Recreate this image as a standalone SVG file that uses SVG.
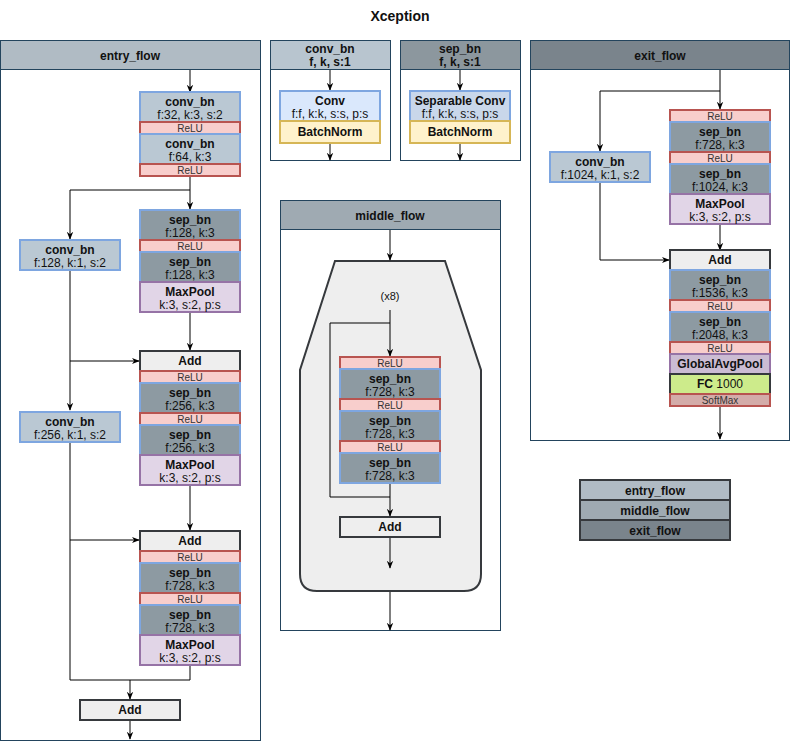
<svg xmlns="http://www.w3.org/2000/svg" width="791" height="749" viewBox="0 0 791 749">
<defs>
<marker id="ah" viewBox="0 0 10 10" refX="9" refY="5" markerWidth="8" markerHeight="8" markerUnits="userSpaceOnUse" orient="auto">
<path d="M0,1 L10,5 L0,9 L3,5 Z" fill="#000"/>
</marker>
<style>
text{font-family:"Liberation Sans",Arial,sans-serif;fill:#111;text-anchor:middle}
.b{font-weight:bold;font-size:12px}
.r{font-size:12px}
.s{font-size:10px;fill:#333}
.cont{fill:#fff;stroke:#23445d;stroke-width:1}
.hdr{stroke:#23445d;stroke-width:1}
.conv{fill:#bac8d3;stroke:#7ea6e0;stroke-width:2}
.sep{fill:#8d9aa2;stroke:#7ea6e0;stroke-width:2}
.relu{fill:#f8cecc;stroke:#b85450;stroke-width:2}
.pool{fill:#e1d5e7;stroke:#9673a6;stroke-width:2}
.gap{fill:#cbbcd3;stroke:#9673a6;stroke-width:2}
.add{fill:#eeeeee;stroke:#36393d;stroke-width:2}
.fc{fill:#cdeb8b;stroke:#36393d;stroke-width:2}
.soft{fill:#d3aca9;stroke:#b85450;stroke-width:2}
.cv{fill:#dae8fc;stroke:#7ea6e0;stroke-width:2}
.scv{fill:#c9d7ea;stroke:#7ea6e0;stroke-width:2}
.bnm{fill:#fff2cc;stroke:#d6b656;stroke-width:2}
.ln{fill:none;stroke:#000;stroke-width:1}
.la{fill:none;stroke:#000;stroke-width:1;marker-end:url(#ah)}
</style>
</defs>
<rect width="791" height="749" fill="#fff"/>
<text x="400" y="21" style="font-weight:bold;font-size:14px">Xception</text>

<!-- containers -->
<g id="entry_flow">
<rect class="cont" x="0.5" y="40.5" width="260" height="700"/>
<rect class="hdr" x="0.5" y="40.5" width="260" height="29" fill="#b0bbc4"/>
<text class="b" x="130" y="60">entry_flow</text>
</g>
<g id="conv_bn_def">
<rect class="cont" x="270.5" y="40.5" width="120" height="120"/>
<rect class="hdr" x="270.5" y="40.5" width="120" height="29" fill="#b8c5cf"/>
<text class="b" x="330" y="53">conv_bn</text>
<text class="b" x="330" y="66">f, k, s:1</text>
</g>
<g id="sep_bn_def">
<rect class="cont" x="400.5" y="40.5" width="120" height="120"/>
<rect class="hdr" x="400.5" y="40.5" width="120" height="29" fill="#8c979e"/>
<text class="b" x="460" y="53">sep_bn</text>
<text class="b" x="460" y="66">f, k, s:1</text>
</g>
<g id="middle_flow">
<rect class="cont" x="280.5" y="200.5" width="220" height="430"/>
<rect class="hdr" x="280.5" y="200.5" width="220" height="29" fill="#9faab2"/>
<text class="b" x="390" y="220">middle_flow</text>
<path d="M335,261 L445,261 L481,370 L481,574 Q481,591 464,591 L317,591 Q300,591 300,574 L300,370 Z" fill="#eeeeee" stroke="#36393d" stroke-width="2"/>
<text x="390" y="300" style="font-size:11px">(x8)</text>
</g>
<g id="exit_flow">
<rect class="cont" x="530.5" y="40.5" width="259" height="400"/>
<rect class="hdr" x="530.5" y="40.5" width="259" height="29" fill="#7a848c"/>
<text class="b" x="660" y="60">exit_flow</text>
</g>

<!-- connectors -->
<g id="connectors">
<line class="la" x1="190" y1="70" x2="190" y2="92"/>
<line class="la" x1="190" y1="177" x2="190" y2="209"/>
<polyline class="la" points="190,190 70,190 70,239"/>
<line class="la" x1="190" y1="313" x2="190" y2="350"/>
<line class="la" x1="70" y1="271" x2="70" y2="410"/>
<polyline class="la" points="70,361 139,361"/>
<line class="la" x1="190" y1="485" x2="190" y2="530"/>
<polyline class="ln" points="70,442 70,680 190,680 190,665"/>
<polyline class="la" points="70,540 139,540"/>
<line class="la" x1="130" y1="680" x2="130" y2="699"/>
<line class="la" x1="130" y1="721" x2="130" y2="739"/>

<line class="la" x1="330" y1="70" x2="330" y2="90"/>
<line class="la" x1="330" y1="144" x2="330" y2="160"/>
<line class="la" x1="460" y1="70" x2="460" y2="90"/>
<line class="la" x1="460" y1="144" x2="460" y2="160"/>

<line class="la" x1="390" y1="230" x2="390" y2="260"/>
<line class="la" x1="390" y1="310" x2="390" y2="356"/>
<polyline class="ln" points="390,323 330,323 330,497 390,497"/>
<line class="la" x1="390" y1="484" x2="390" y2="516"/>
<line class="la" x1="390" y1="538" x2="390" y2="568"/>
<line class="la" x1="390" y1="592" x2="390" y2="630"/>

<line class="la" x1="720" y1="70" x2="720" y2="109"/>
<polyline class="la" points="720,91 600,91 600,151"/>
<polyline class="la" points="600,183 600,260 669,260"/>
<line class="la" x1="720" y1="225" x2="720" y2="250"/>
<line class="la" x1="720" y1="407" x2="720" y2="439"/>
</g>

<!-- entry nodes -->
<g id="e_conv1"><rect class="conv" x="140" y="92" width="100" height="30"/><text class="b" x="190" y="105.5">conv_bn</text><text class="r" x="190" y="119">f:32, k:3, s:2</text></g>
<g id="e_relu1"><rect class="relu" x="140" y="122" width="100" height="12"/><text class="s" x="190" y="131.5">ReLU</text></g>
<g id="e_conv2"><rect class="conv" x="140" y="134" width="100" height="30"/><text class="b" x="190" y="147.5">conv_bn</text><text class="r" x="190" y="161">f:64, k:3</text></g>
<g id="e_relu2"><rect class="relu" x="140" y="164" width="100" height="12"/><text class="s" x="190" y="173.5">ReLU</text></g>

<g id="e_sep1"><rect class="sep" x="140" y="210" width="100" height="30"/><text class="b" x="190" y="223.5">sep_bn</text><text class="r" x="190" y="237">f:128, k:3</text></g>
<g id="e_relu3"><rect class="relu" x="140" y="240" width="100" height="12"/><text class="s" x="190" y="249.5">ReLU</text></g>
<g id="e_sep2"><rect class="sep" x="140" y="252" width="100" height="30"/><text class="b" x="190" y="265.5">sep_bn</text><text class="r" x="190" y="279">f:128, k:3</text></g>
<g id="e_pool1"><rect class="pool" x="140" y="282" width="100" height="30"/><text class="b" x="190" y="295.5">MaxPool</text><text class="r" x="190" y="309">k:3, s:2, p:s</text></g>
<g id="e_skip1"><rect class="conv" x="20" y="240" width="100" height="30"/><text class="b" x="70" y="253.5">conv_bn</text><text class="r" x="70" y="267">f:128, k:1, s:2</text></g>

<g id="e_add1"><rect class="add" x="140" y="351" width="100" height="20"/><text class="b" x="190" y="365">Add</text></g>
<g id="e_relu4"><rect class="relu" x="140" y="371" width="100" height="12"/><text class="s" x="190" y="380.5">ReLU</text></g>
<g id="e_sep3"><rect class="sep" x="140" y="383" width="100" height="30"/><text class="b" x="190" y="396.5">sep_bn</text><text class="r" x="190" y="410">f:256, k:3</text></g>
<g id="e_relu5"><rect class="relu" x="140" y="413" width="100" height="12"/><text class="s" x="190" y="422.5">ReLU</text></g>
<g id="e_sep4"><rect class="sep" x="140" y="425" width="100" height="30"/><text class="b" x="190" y="438.5">sep_bn</text><text class="r" x="190" y="452">f:256, k:3</text></g>
<g id="e_pool2"><rect class="pool" x="140" y="455" width="100" height="30"/><text class="b" x="190" y="468.5">MaxPool</text><text class="r" x="190" y="482">k:3, s:2, p:s</text></g>
<g id="e_skip2"><rect class="conv" x="20" y="412" width="100" height="30"/><text class="b" x="70" y="425.5">conv_bn</text><text class="r" x="70" y="439">f:256, k:1, s:2</text></g>

<g id="e_add2"><rect class="add" x="140" y="531" width="100" height="20"/><text class="b" x="190" y="545">Add</text></g>
<g id="e_relu6"><rect class="relu" x="140" y="551" width="100" height="12"/><text class="s" x="190" y="560.5">ReLU</text></g>
<g id="e_sep5"><rect class="sep" x="140" y="563" width="100" height="30"/><text class="b" x="190" y="576.5">sep_bn</text><text class="r" x="190" y="590">f:728, k:3</text></g>
<g id="e_relu7"><rect class="relu" x="140" y="593" width="100" height="12"/><text class="s" x="190" y="602.5">ReLU</text></g>
<g id="e_sep6"><rect class="sep" x="140" y="605" width="100" height="30"/><text class="b" x="190" y="618.5">sep_bn</text><text class="r" x="190" y="632">f:728, k:3</text></g>
<g id="e_pool3"><rect class="pool" x="140" y="635" width="100" height="30"/><text class="b" x="190" y="648.5">MaxPool</text><text class="r" x="190" y="662">k:3, s:2, p:s</text></g>
<g id="e_add3"><rect class="add" x="80" y="700" width="100" height="20"/><text class="b" x="130" y="714">Add</text></g>

<!-- definitions -->
<g id="d_conv"><rect class="cv" x="280" y="91" width="100" height="30"/><text class="b" x="330" y="104.5">Conv</text><text class="r" x="330" y="118">f:f, k:k, s:s, p:s</text></g>
<g id="d_bn1"><rect class="bnm" x="280" y="121" width="100" height="22"/><text class="b" x="330" y="136">BatchNorm</text></g>
<g id="d_sconv"><rect class="scv" x="410" y="91" width="100" height="30"/><text class="b" x="460" y="104.5">Separable Conv</text><text class="r" x="460" y="118">f:f, k:k, s:s, p:s</text></g>
<g id="d_bn2"><rect class="bnm" x="410" y="121" width="100" height="22"/><text class="b" x="460" y="136">BatchNorm</text></g>

<!-- middle nodes -->
<g id="m_relu1"><rect class="relu" x="340" y="357" width="100" height="12"/><text class="s" x="390" y="366.5">ReLU</text></g>
<g id="m_sep1"><rect class="sep" x="340" y="369" width="100" height="30"/><text class="b" x="390" y="382.5">sep_bn</text><text class="r" x="390" y="396">f:728, k:3</text></g>
<g id="m_relu2"><rect class="relu" x="340" y="399" width="100" height="12"/><text class="s" x="390" y="408.5">ReLU</text></g>
<g id="m_sep2"><rect class="sep" x="340" y="411" width="100" height="30"/><text class="b" x="390" y="424.5">sep_bn</text><text class="r" x="390" y="438">f:728, k:3</text></g>
<g id="m_relu3"><rect class="relu" x="340" y="441" width="100" height="12"/><text class="s" x="390" y="450.5">ReLU</text></g>
<g id="m_sep3"><rect class="sep" x="340" y="453" width="100" height="30"/><text class="b" x="390" y="466.5">sep_bn</text><text class="r" x="390" y="480">f:728, k:3</text></g>
<g id="m_add"><rect class="add" x="340" y="517" width="100" height="20"/><text class="b" x="390" y="531">Add</text></g>

<!-- exit nodes -->
<g id="x_relu1"><rect class="relu" x="670" y="110" width="100" height="12"/><text class="s" x="720" y="119.5">ReLU</text></g>
<g id="x_sep1"><rect class="sep" x="670" y="122" width="100" height="30"/><text class="b" x="720" y="135.5">sep_bn</text><text class="r" x="720" y="149">f:728, k:3</text></g>
<g id="x_relu2"><rect class="relu" x="670" y="152" width="100" height="12"/><text class="s" x="720" y="161.5">ReLU</text></g>
<g id="x_sep2"><rect class="sep" x="670" y="164" width="100" height="30"/><text class="b" x="720" y="177.5">sep_bn</text><text class="r" x="720" y="191">f:1024, k:3</text></g>
<g id="x_pool"><rect class="pool" x="670" y="194" width="100" height="30"/><text class="b" x="720" y="207.5">MaxPool</text><text class="r" x="720" y="221">k:3, s:2, p:s</text></g>
<g id="x_skip"><rect class="conv" x="550" y="152" width="100" height="30"/><text class="b" x="600" y="165.5">conv_bn</text><text class="r" x="600" y="179">f:1024, k:1, s:2</text></g>
<g id="x_add"><rect class="add" x="670" y="250" width="100" height="20"/><text class="b" x="720" y="264">Add</text></g>
<g id="x_sep3"><rect class="sep" x="670" y="270" width="100" height="30"/><text class="b" x="720" y="283.5">sep_bn</text><text class="r" x="720" y="297">f:1536, k:3</text></g>
<g id="x_relu3"><rect class="relu" x="670" y="300" width="100" height="12"/><text class="s" x="720" y="309.5">ReLU</text></g>
<g id="x_sep4"><rect class="sep" x="670" y="312" width="100" height="30"/><text class="b" x="720" y="325.5">sep_bn</text><text class="r" x="720" y="339">f:2048, k:3</text></g>
<g id="x_relu4"><rect class="relu" x="670" y="342" width="100" height="12"/><text class="s" x="720" y="351.5">ReLU</text></g>
<g id="x_gap"><rect class="gap" x="670" y="354" width="100" height="20"/><text class="b" x="720" y="368">GlobalAvgPool</text></g>
<g id="x_fc"><rect class="fc" x="670" y="374" width="100" height="20"/><text class="r" x="720" y="388"><tspan font-weight="bold">FC</tspan> 1000</text></g>
<g id="x_soft"><rect class="soft" x="670" y="394" width="100" height="12"/><text class="s" x="720" y="403.5">SoftMax</text></g>

<!-- legend -->
<g id="legend">
<rect x="580" y="480" width="150" height="20" fill="#b0bbc4" stroke="#36393d" stroke-width="2"/>
<text class="b" x="655" y="494.5">entry_flow</text>
<rect x="580" y="500" width="150" height="20" fill="#9faab2" stroke="#36393d" stroke-width="2"/>
<text class="b" x="655" y="514.5">middle_flow</text>
<rect x="580" y="520" width="150" height="20" fill="#7a848c" stroke="#36393d" stroke-width="2"/>
<text class="b" x="655" y="534.5">exit_flow</text>
</g>
</svg>
